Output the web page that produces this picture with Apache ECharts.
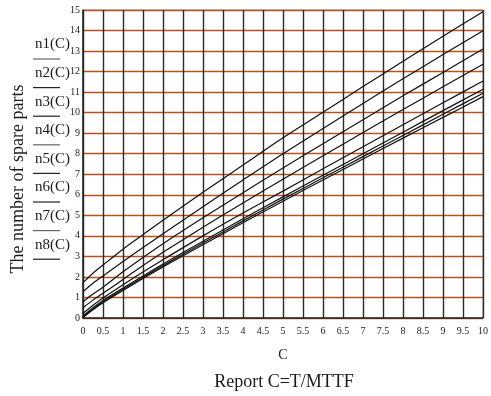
<!DOCTYPE html>
<html><head><meta charset="utf-8">
<script src="https://cdn.jsdelivr.net/npm/echarts@6/dist/echarts.min.js"></script>
<style>html,body{margin:0;padding:0;background:#fff}#c{width:491px;height:396px}</style>
</head><body><div id="c"></div>
<script>
const C = [0, 0.25, 0.5, 1, 1.5, 2, 3, 4, 5, 6, 7, 8, 9, 10];
const n1 = [1.72, 2.18, 2.58, 3.35, 4.06, 4.76, 6.12, 7.45, 8.78, 10.02, 11.27, 12.50, 13.72, 14.92];
const n2 = [1.28, 1.69, 2.05, 2.75, 3.43, 4.10, 5.42, 6.72, 8.00, 9.23, 10.45, 11.65, 12.83, 13.99];
const n3 = [0.79, 1.17, 1.50, 2.25, 2.95, 3.62, 4.88, 6.10, 7.31, 8.49, 9.66, 10.82, 11.96, 13.10];
const n4 = [0.50, 0.87, 1.20, 1.88, 2.56, 3.20, 4.42, 5.60, 6.76, 7.90, 9.03, 10.15, 11.26, 12.36];
const n5 = [0.22, 0.62, 0.97, 1.62, 2.24, 2.84, 4.00, 5.11, 6.18, 7.27, 8.34, 9.41, 10.48, 11.54];
const n6 = [0.10, 0.50, 0.85, 1.46, 2.05, 2.63, 3.74, 4.83, 5.90, 6.95, 8.00, 9.05, 10.10, 11.14];
const n7 = [0.05, 0.44, 0.79, 1.40, 1.98, 2.55, 3.65, 4.73, 5.79, 6.83, 7.86, 8.89, 9.92, 10.95];
const n8 = [0.02, 0.40, 0.74, 1.34, 1.92, 2.48, 3.57, 4.64, 5.69, 6.72, 7.74, 8.76, 9.77, 10.78];
const seriesNames = ['n1(C)', 'n2(C)', 'n3(C)', 'n4(C)', 'n5(C)', 'n6(C)', 'n7(C)', 'n8(C)'];
const seriesData = [n1, n2, n3, n4, n5, n6, n7, n8];
const xTitle = 'C';
const yTitle = 'The number of spare parts';
const bottomTitle = 'Report C=T/MTTF';

const font = '"Liberation Serif","Times New Roman",serif';
const chart = echarts.init(document.getElementById('c'), null, {renderer: 'canvas'});

const legendGraphics = [];
seriesNames.forEach((nm, i) => {
  const yc = 46 + i * 28.6;
  legendGraphics.push({type: 'text', left: 35, top: yc - 9, silent: true,
    style: {text: nm, font: '15px ' + font, fill: '#1a1a1a'}});
  legendGraphics.push({type: 'line', silent: true,
    shape: {x1: 33, y1: yc + 13, x2: 60, y2: yc + 13},
    style: {stroke: i % 3 === 0 ? '#666' : '#222', lineWidth: 1.2}});
});
legendGraphics.push({type: 'text', silent: true, x: 18, y: 179, rotation: Math.PI / 2,
  style: {text: yTitle, font: '18px ' + font, fill: '#1a1a1a', align: 'center', verticalAlign: 'middle'}});
legendGraphics.push({type: 'text', silent: true, x: 284, y: 382,
  style: {text: bottomTitle, font: '18px ' + font, fill: '#1a1a1a', align: 'center', verticalAlign: 'middle'}});
legendGraphics.push({type: 'line', silent: true, shape: {x1: 83, y1: 10, x2: 483, y2: 10}, style: {stroke: '#888', lineWidth: 1}});
legendGraphics.push({type: 'line', silent: true, shape: {x1: 483, y1: 10, x2: 483, y2: 318}, style: {stroke: '#888', lineWidth: 1}});

chart.setOption({
  animation: false,
  grid: {left: 83, right: 8, top: 10, bottom: 78, containLabel: false},
  xAxis: {
    type: 'value', min: 0, max: 10, interval: 0.5,
    name: xTitle, nameLocation: 'middle', nameGap: 30,
    nameTextStyle: {fontFamily: font, fontSize: 14, color: '#1a1a1a'},
    axisLine: {show: true, onZero: false, lineStyle: {color: '#222', width: 1.5}},
    axisTick: {show: false},
    axisLabel: {fontFamily: font, fontSize: 10, color: '#222', margin: 8},
    splitLine: {show: true, lineStyle: {color: '#2a2a2a', width: 1.4}}
  },
  yAxis: {
    type: 'value', min: 0, max: 15, interval: 1,
    axisLine: {show: true, lineStyle: {color: '#222', width: 1.5}},
    axisTick: {show: false},
    axisLabel: {fontFamily: font, fontSize: 10, color: '#222', margin: 3},
    splitLine: {show: true, lineStyle: {color: '#b4531d', width: 1.4}}
  },
  series: seriesData.map((d, i) => ({
    name: seriesNames[i], type: 'line', smooth: 0.3, showSymbol: false, silent: true,
    data: C.map((c, j) => [c, d[j]]),
    lineStyle: {color: '#111', width: 1.2}
  })),
  graphic: legendGraphics
});
</script></body></html>
